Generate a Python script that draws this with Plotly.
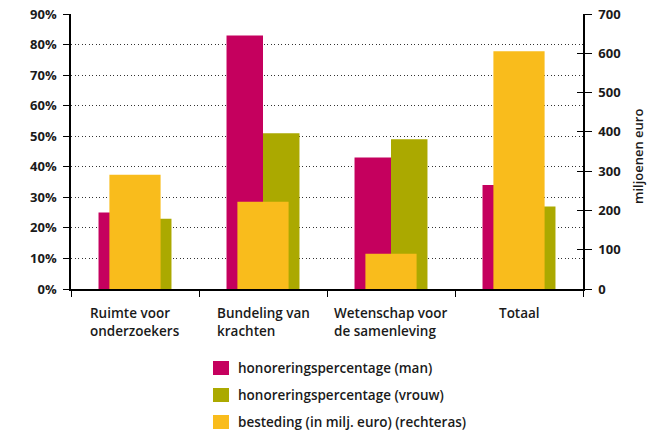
import plotly.graph_objects as go

# Data
categories = ["Ruimte voor<br>onderzoekers", "Bundeling van<br>krachten",
              "Wetenschap voor<br>de samenleving", "Totaal"]
pct_man = [25, 83, 43, 34]          # honoreringspercentage (man), %
pct_vrouw = [23, 51, 49, 27]        # honoreringspercentage (vrouw), %
besteding = [291, 222, 90, 605]     # besteding in miljoenen euro (right axis)
series_names = ["honoreringspercentage (man)",
                "honoreringspercentage (vrouw)",
                "besteding (in milj. euro) (rechteras)"]
left_ticks = list(range(0, 91, 10))
right_ticks = list(range(0, 701, 100))

# Styling
C_MAN = "#C5005E"
C_VROUW = "#ABA900"
C_BEST = "#F9BC1C"
TXT = "#1a1a1a"
FONT = "Open Sans"

W, H = 654, 432
L, R, T, B = 71, 71, 14, 143
pw, ph = W - L - R, H - T - B

xpos = list(range(len(categories)))

fig = go.Figure()
fig.add_trace(go.Bar(x=xpos, y=pct_man, width=0.285, offset=-0.285,
                     marker=dict(color=C_MAN, line=dict(width=0)),
                     name=series_names[0], showlegend=False))
fig.add_trace(go.Bar(x=xpos, y=pct_vrouw, width=0.285, offset=0,
                     marker=dict(color=C_VROUW, line=dict(width=0)),
                     name=series_names[1], showlegend=False))
fig.add_trace(go.Bar(x=xpos, y=besteding, width=0.4, offset=-0.2, yaxis="y2",
                     marker=dict(color=C_BEST, line=dict(width=0)),
                     name=series_names[2], showlegend=False))
# invisible trace hosting the inner half of the right-axis cross ticks
fig.add_trace(go.Scatter(x=[None], y=[None], yaxis="y3", showlegend=False))

tickfont = dict(family=FONT, size=13, color=TXT, weight=700)

fig.update_layout(
    width=W, height=H,
    margin=dict(l=L, r=R, t=T, b=B, autoexpand=False),
    paper_bgcolor="white", plot_bgcolor="white",
    barmode="overlay",
    xaxis=dict(range=[-0.5, len(categories) - 0.5], automargin=False,
               tickvals=[i - 0.5 for i in range(len(categories) + 1)],
               ticktext=[""] * (len(categories) + 1),
               ticks="outside", ticklen=6, tickcolor="black", tickwidth=1.2,
               showgrid=False, zeroline=False,
               showline=True, linecolor="black", linewidth=1.5),
    yaxis=dict(range=[0, 90], tickvals=left_ticks, automargin=False,
               ticktext=[f"{v}%" for v in left_ticks],
               ticks="outside", ticklen=6, tickcolor="black", tickwidth=1.2,
               tickfont=tickfont, ticklabelstandoff=4,
               showgrid=True, gridcolor="#333333", griddash="1px,2.5px", gridwidth=1,
               zeroline=False,
               showline=True, linecolor="black", linewidth=1.5),
    yaxis2=dict(range=[0, 700], tickvals=right_ticks, automargin=False,
                overlaying="y", side="right",
                ticks="outside", ticklen=7, tickcolor="black", tickwidth=1.2,
                tickfont=tickfont, ticklabelstandoff=4,
                showgrid=False, zeroline=False,
                showline=True, linecolor="black", linewidth=1.5),
    yaxis3=dict(range=[0, 700], tickvals=right_ticks, automargin=False,
                overlaying="y", side="right",
                ticks="inside", ticklen=6, tickcolor="black", tickwidth=1.2,
                showticklabels=False, showgrid=False, zeroline=False,
                showline=False),
)

# Category labels (centred block, lines left-aligned)
for i, cat in enumerate(categories):
    fig.add_annotation(x=i, y=0, xref="x", yref="paper",
                       text=cat, showarrow=False, align="left",
                       xanchor="center", yanchor="top", yshift=-13,
                       font=dict(family=FONT, size=13.5, color=TXT, weight=600))

# Right axis title
fig.add_annotation(x=(638 - L) / pw, y=(289 - 157) / ph, xref="paper", yref="paper",
                   text="miljoenen euro", textangle=-90, showarrow=False,
                   xanchor="center", yanchor="middle",
                   font=dict(family=FONT, size=13, color=TXT, weight=600))

# Legend
colors = [C_MAN, C_VROUW, C_BEST]
rows = [368, 395, 422]
for name, col, cy in zip(series_names, colors, rows):
    fig.add_shape(type="rect", xref="paper", yref="paper",
                  x0=(213 - L) / pw, x1=(229 - L) / pw,
                  y0=(289 - (cy + 7)) / ph, y1=(289 - (cy - 7)) / ph,
                  fillcolor=col, line=dict(width=0))
    fig.add_annotation(x=(236 - L) / pw, y=(289 - cy) / ph, xref="paper", yref="paper",
                       text=name, showarrow=False, xanchor="left", yanchor="middle",
                       font=dict(family=FONT, size=13.5, color=TXT, weight=600))

fig.write_html("out.html")
